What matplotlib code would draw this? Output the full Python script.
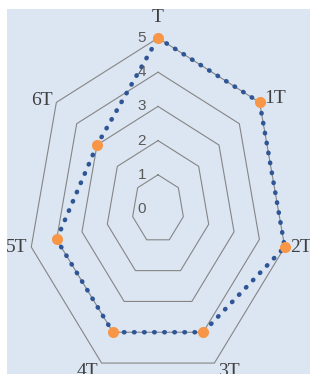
import numpy as np
import matplotlib
matplotlib.use("Agg")
import matplotlib.pyplot as plt
from matplotlib.patches import Rectangle

categories = ["T", "1T", "2T", "3T", "4T", "5T", "6T"]
values = [5, 5, 5, 4, 4, 4, 3]
levels = [0, 1, 2, 3, 4, 5]

bg = "#dce6f2"
ring_color = "#858585"
line_color = "#2f5597"
marker_color = "#f79646"

W, H = 310, 374
fig = plt.figure(figsize=(W / 100, H / 100), dpi=100, facecolor="white")
# light blue chart area (cropped: white strip on the left and top)
fig.patches.append(Rectangle((7 / W, 0), 1 - 7 / W, 1 - 9 / H, transform=fig.transFigure,
                             facecolor=bg, edgecolor="none", zorder=-10))

# center (158, 209) px, radius 5 -> 130 px wide, 171 px tall
cx, cy, rx, ry = 158, 209, 130, 171
ax = fig.add_axes([(cx - rx) / W, (H - cy - ry) / H, 2 * rx / W, 2 * ry / H], projection="polar")
ax.set_zorder(1)
ax.set_theta_zero_location("N")
ax.set_theta_direction(-1)
ax.set_aspect("auto")
ax.set_ylim(0, 5)
ax.grid(False)
ax.spines["polar"].set_visible(False)
ax.set_xticks([])
ax.set_yticks([])
ax.patch.set_visible(False)

n = len(categories)
angles = np.linspace(0, 2 * np.pi, n, endpoint=False)
closed = np.append(angles, angles[0])

# heptagon rings
for k in levels[1:]:
    ax.plot(closed, [k] * (n + 1), color=ring_color, lw=0.8, zorder=1, clip_on=False)

# data series
vals = np.append(values, values[0])
ax.plot(closed, vals, color=line_color, lw=3.3, linestyle=(0, (0.1, 2.1)),
        dash_capstyle="round", zorder=3, clip_on=False)
ax.plot(angles, values, "o", color=marker_color, markersize=8, markeredgewidth=0,
        zorder=4, clip_on=False)

# level labels
for k in levels:
    ax.annotate(str(k), xy=(0, k), xytext=(-12, 0), textcoords="offset pixels",
                ha="right", va="center", fontsize=11, color="#595959",
                family="Liberation Sans", annotation_clip=False)

# category labels
label_pos = {
    "T": ((0, 16), "center", "baseline"),
    "1T": ((5, 4), "left", "center"),
    "2T": ((5, 0), "left", "center"),
    "3T": ((4, 0), "left", "top"),
    "4T": ((-3, 0), "right", "top"),
    "5T": ((-4, 0), "right", "center"),
    "6T": ((-4, 2), "right", "center"),
}
for ang, cat in zip(angles, categories):
    off, ha, va = label_pos[cat]
    ax.annotate(cat, xy=(ang, 5), xytext=off, textcoords="offset pixels",
                ha=ha, va=va, fontsize=14, color="#404040",
                family="Liberation Serif", annotation_clip=False)

fig.savefig("out.png", dpi=100, facecolor="white")
